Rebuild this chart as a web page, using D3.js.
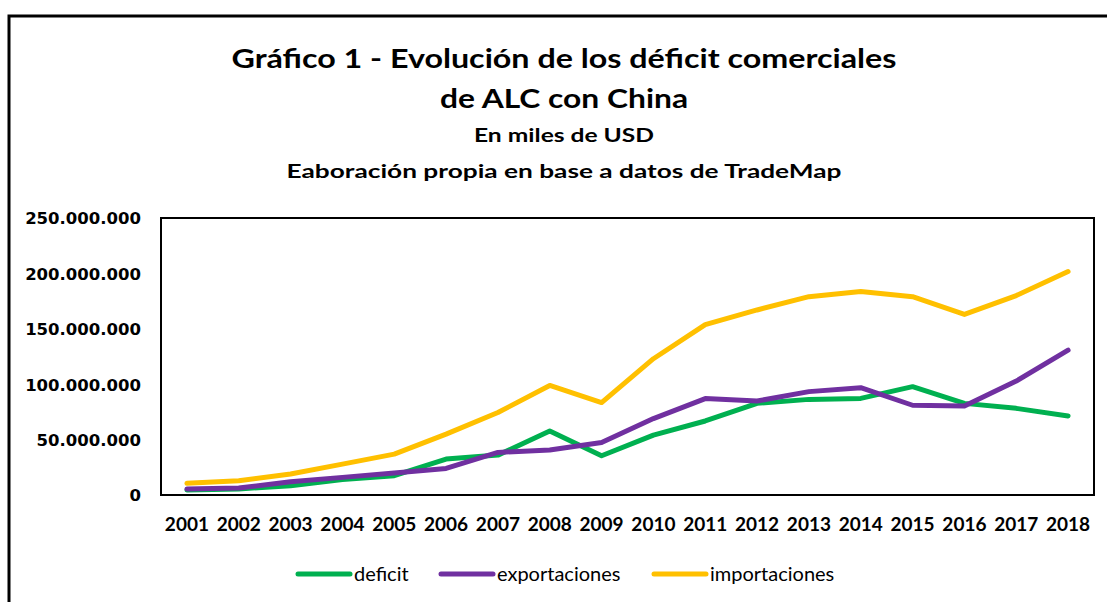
<!DOCTYPE html>
<html>
<head>
<meta charset="utf-8">
<script src="https://cdn.jsdelivr.net/npm/d3@7"></script>
<style>
html,body{margin:0;padding:0;background:#fff;}
svg{display:block;}
</style>
</head>
<body>
<svg id="chart" width="1107" height="602"></svg>
<script>
const years = ["2001","2002","2003","2004","2005","2006","2007","2008","2009","2010","2011","2012","2013","2014","2015","2016","2017","2018"];
const deficit = [4.5e6,5.5e6,8.4e6,14e6,17.4e6,32.4e6,36e6,57.8e6,35.4e6,54e6,66.8e6,82.7e6,86.3e6,87.2e6,97.8e6,82.7e6,78.2e6,71.3e6];
const exportaciones = [5.4e6,6.3e6,12e6,15.9e6,19.8e6,24e6,38.4e6,40.7e6,47.4e6,69e6,87e6,84.8e6,93.3e6,96.9e6,81e6,80.3e6,102.8e6,130.7e6];
const importaciones = [10.5e6,12.9e6,18.9e6,27.9e6,36.9e6,54.9e6,74.4e6,98.9e6,83.4e6,123e6,153.8e6,167e6,179e6,183.7e6,179e6,163e6,180e6,201.7e6];
const yTicks = [0,50e6,100e6,150e6,200e6,250e6];
const seriesNames = ["deficit","exportaciones","importaciones"];
const seriesColors = ["#00B050","#7030A0","#FFC000"];
const titleLines = ["Gráfico 1 - Evolución de los déficit comerciales","de ALC con China","En miles de USD","Eaboración propia en base a datos de TradeMap"];

const svg = d3.select("#chart");
// outer border
svg.append("rect").attr("x",9).attr("y",16).attr("width",1300).attr("height",800)
  .attr("fill","none").attr("stroke","#000").attr("stroke-width",3);

// titles
const titleSpec = [
  {y:68, size:27, w:665},
  {y:108, size:27, w:248},
  {y:142, size:19, w:180},
  {y:178, size:19, w:555}
];
titleLines.forEach((t,i)=>{
  svg.append("text").attr("x",564).attr("y",titleSpec[i].y)
    .attr("text-anchor","middle")
    .attr("font-family","Lato, 'Open Sans', sans-serif")
    .attr("font-weight","bold")
    .attr("font-size",titleSpec[i].size)
    .attr("textLength",titleSpec[i].w)
    .attr("lengthAdjust","spacingAndGlyphs")
    .attr("fill","#000")
    .text(t);
});

const L=161, R=1094, T=218, B=495;
const x = d3.scaleBand().domain(years).range([L,R]).padding(0);
const y = d3.scaleLinear().domain([0,250e6]).range([B,T]);

const fmt = v => d3.format(",")(v).replace(/,/g,".");

// y axis
const yAxis = svg.append("g").attr("transform",`translate(${L},0)`)
  .call(d3.axisLeft(y).tickValues(yTicks).tickFormat(fmt).tickSize(0).tickPadding(20));
yAxis.select(".domain").remove();
yAxis.selectAll("text").attr("font-family","'DejaVu Sans', sans-serif")
  .attr("font-weight","bold").attr("font-size",16.5).attr("fill","#000").attr("dy","0.36em");

// x axis
const xAxis = svg.append("g").attr("transform",`translate(0,${B})`)
  .call(d3.axisBottom(x).tickSize(0).tickPadding(23));
xAxis.select(".domain").remove();
xAxis.selectAll("text").attr("font-family","Lato, sans-serif")
  .attr("font-weight","bold").attr("font-size",19).attr("fill","#000");

// plot frame
svg.append("rect").attr("x",L).attr("y",T).attr("width",R-L).attr("height",B-T)
  .attr("fill","none").attr("stroke","#000").attr("stroke-width",2);

const line = d3.line().x((d,i)=>x(years[i])+x.bandwidth()/2).y(d=>y(d));
const allSeries = [deficit, exportaciones, importaciones];
allSeries.forEach((s,i)=>{
  svg.append("path").datum(s).attr("d",line)
    .attr("fill","none").attr("stroke",seriesColors[i]).attr("stroke-width",5)
    .attr("stroke-linejoin","round").attr("stroke-linecap","round");
});

// legend
const legX = [298, 441, 654];
seriesNames.forEach((n,i)=>{
  svg.append("line").attr("x1",legX[i]).attr("x2",legX[i]+52).attr("y1",574).attr("y2",574)
    .attr("stroke",seriesColors[i]).attr("stroke-width",5).attr("stroke-linecap","round");
  svg.append("text").attr("x",legX[i]+56).attr("y",581)
    .attr("font-family","Lato, sans-serif").attr("font-size",20).attr("fill","#000")
    .text(n);
});
</script>
</body>
</html>
